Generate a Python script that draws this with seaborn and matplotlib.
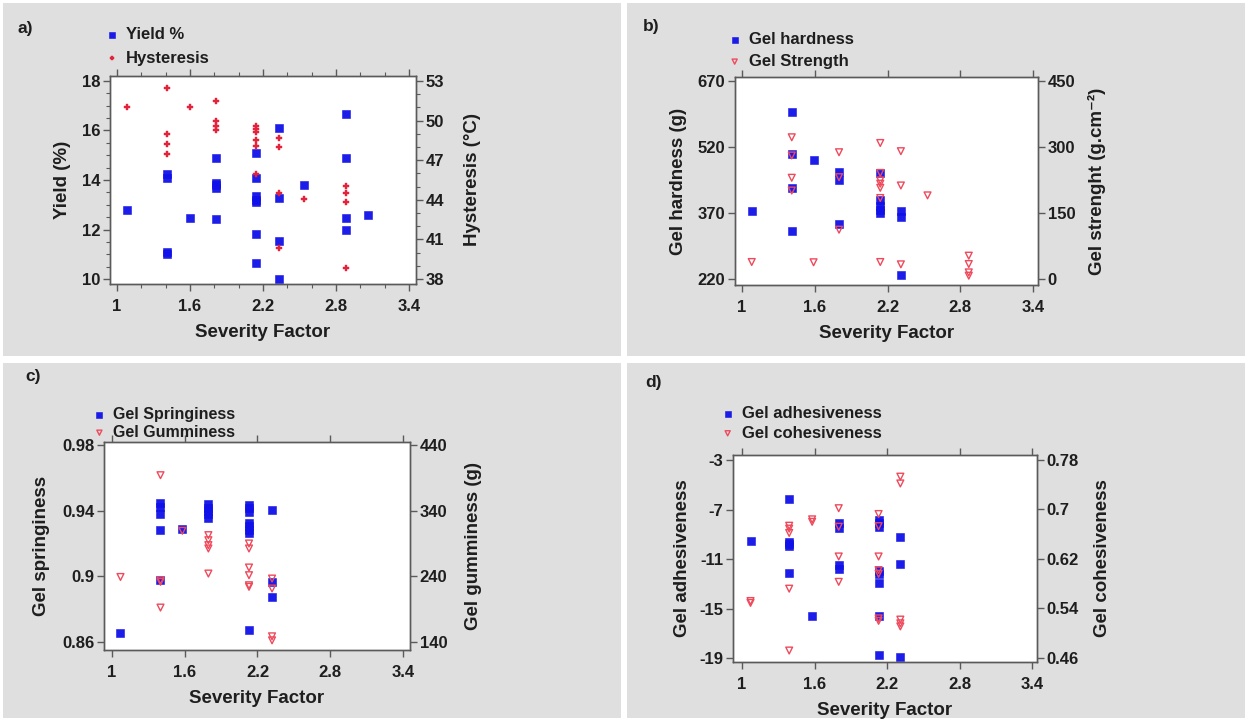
import numpy as np
import pandas as pd
import matplotlib
matplotlib.use("Agg")
import matplotlib.pyplot as plt
from matplotlib.patches import Rectangle
from matplotlib.ticker import FixedLocator, FuncFormatter, MultipleLocator
import seaborn as sns

# ---------------- data ----------------
# a) Yield / Hysteresis
a_yield_sf = [1.08, 1.41, 1.41, 1.41, 1.41, 1.60, 1.81, 1.81, 1.81, 1.81, 1.81,
              2.14, 2.14, 2.14, 2.14, 2.14, 2.14, 2.14, 2.33, 2.33, 2.33, 2.33,
              2.54, 2.88, 2.88, 2.88, 2.88, 3.06]
a_yield = [12.8, 14.25, 14.1, 11.1, 11.0, 12.48, 14.88, 13.88, 13.78, 13.68, 12.43,
           15.1, 14.1, 13.35, 13.2, 13.1, 11.8, 10.66, 16.1, 13.29, 11.54, 10.0,
           13.78, 16.68, 14.9, 12.48, 11.97, 12.57]
a_hyst_sf = [1.08, 1.41, 1.41, 1.41, 1.41, 1.60, 1.81, 1.81, 1.81, 1.81,
             2.14, 2.14, 2.14, 2.14, 2.14, 2.14, 2.33, 2.33, 2.33, 2.33,
             2.54, 2.88, 2.88, 2.88, 2.88]
a_hyst = [51.0, 52.5, 49.0, 48.2, 47.5, 51.0, 51.5, 50.0, 49.6, 49.3,
          49.6, 49.33, 49.1, 48.5, 48.07, 45.97, 48.67, 48.0, 44.5, 40.33,
          44.07, 45.03, 44.5, 43.8, 38.86]

# b) Gel hardness / Gel strength
b_hard_sf = [1.08, 1.41, 1.41, 1.41, 1.41, 1.59, 1.80, 1.80, 1.80,
             2.14, 2.14, 2.14, 2.14, 2.14, 2.31, 2.31, 2.31]
b_hard = [373.5, 599, 503, 426.5, 329.7, 491.5, 464, 445.4, 345.5,
          460.5, 398.5, 387, 377, 370, 374, 362, 229]
b_str_sf = [1.08, 1.41, 1.41, 1.41, 1.41, 1.59, 1.80, 1.80, 1.80,
            2.14, 2.14, 2.14, 2.14, 2.14, 2.14, 2.14, 2.31, 2.31, 2.31,
            2.53, 2.87, 2.87, 2.87, 2.87]
b_str = [38.6, 322, 280.6, 230, 201, 38, 288, 231.4, 112,
         309, 241, 224, 216.6, 207.2, 184, 38.6, 290.4, 212.5, 33.3,
         190, 53, 34, 15, 7.6]

# c) Gel springiness / Gel gumminess
c_spr_sf = [1.07, 1.40, 1.40, 1.40, 1.40, 1.40, 1.58, 1.795, 1.795, 1.795, 1.795, 1.795,
            2.13, 2.13, 2.13, 2.13, 2.13, 2.13, 2.13, 2.13, 2.32, 2.32, 2.32]
c_spr = [0.8655, 0.9444, 0.9424, 0.9379, 0.9285, 0.8976, 0.929, 0.9438, 0.9417, 0.9397,
         0.9377, 0.9356, 0.9434, 0.9413, 0.9393, 0.9326, 0.9306, 0.9285, 0.9265, 0.8675,
         0.9403, 0.8966, 0.8875]
c_gum_sf = [1.07, 1.40, 1.40, 1.40, 1.40, 1.58, 1.795, 1.795, 1.795, 1.795, 1.795,
            2.13, 2.13, 2.13, 2.13, 2.13, 2.13, 2.32, 2.32, 2.32, 2.32]
c_gum = [239, 394, 234, 231.5, 192.4, 309.3, 302.7, 295, 287.5, 282.4, 244.2,
         290, 282.4, 253.4, 241.7, 226.4, 224, 236.6, 221.4, 148.6, 142.5]

# d) Gel adhesiveness / Gel cohesiveness
d_adh_sf = [1.07, 1.39, 1.39, 1.39, 1.39, 1.39, 1.58, 1.80, 1.80, 1.80, 1.80,
            2.13, 2.13, 2.13, 2.13, 2.13, 2.13, 2.13, 2.13, 2.31, 2.31, 2.31]
d_adh = [-9.53, -6.18, -9.61, -9.8, -9.96, -12.12, -15.63, -8.07, -8.53, -11.5, -11.77,
         -7.86, -8.13, -8.4, -11.96, -12.17, -12.9, -15.63, -18.73, -9.21, -11.37, -18.92]
d_coh_sf = [1.07, 1.07, 1.39, 1.39, 1.39, 1.39, 1.39, 1.58, 1.58, 1.80, 1.80, 1.80, 1.80,
            2.13, 2.13, 2.13, 2.13, 2.13, 2.13, 2.13, 2.31, 2.31, 2.31, 2.31, 2.31]
d_coh = [0.552, 0.549, 0.6737, 0.669, 0.662, 0.572, 0.472, 0.684, 0.680,
         0.702, 0.672, 0.624, 0.583, 0.6926, 0.673, 0.624, 0.602, 0.596, 0.524, 0.520,
         0.753, 0.742, 0.522, 0.516, 0.511]

x_ticks = [1, 1.6, 2.2, 2.8, 3.4]

# ---------------- style ----------------
sns.set_theme(style="ticks")
plt.rcParams["font.family"] = ["Liberation Sans", "DejaVu Sans"]
plt.rcParams["font.weight"] = "bold"
plt.rcParams["axes.labelweight"] = "bold"

W, H = 1248, 721
fig = plt.figure(figsize=(W / 100, H / 100), dpi=100)
fig.patch.set_facecolor("white")

GRAY = "#dfdfdf"
for (x0, y0, x1, y1) in [(3, 3, 621, 356), (627, 3, 1245, 356),
                         (3, 363, 621, 718), (627, 363, 1245, 718)]:
    fig.patches.append(Rectangle((x0 / W, 1 - y1 / H), (x1 - x0) / W, (y1 - y0) / H,
                                 transform=fig.transFigure, facecolor=GRAY,
                                 edgecolor="none", zorder=-10))

BLUE = "#1010e8"
RED_P = "#e3233c"
RED_T = "#ee4a5c"
TXT = "#1e1e1e"
SPINE = "#5a5a5a"


def px_axes(l, r, t, b):
    return fig.add_axes([l / W, 1 - b / H, (r - l) / W, (b - t) / H])


fmt = FuncFormatter(lambda v, p: "%g" % round(v, 4))


def style_axes(ax, ax2):
    for a in (ax, ax2):
        for s in a.spines.values():
            s.set_color(SPINE)
            s.set_linewidth(1.0)
        a.tick_params(axis="both", which="major", direction="out", length=5, width=1,
                      color=SPINE, labelsize=12, labelcolor=TXT, pad=2)
        a.tick_params(axis="both", which="minor", direction="out", length=3, width=0.8,
                      color=SPINE)
        for lab in a.get_yticklabels() + a.get_xticklabels():
            lab.set_fontweight("bold")
    ax.tick_params(axis="x", which="major", pad=6)
    ax.set_facecolor("white")
    ax.xaxis.set_ticks_position("both")
    ax.tick_params(axis="x", top=True, labeltop=False)


def make_panel(rect, xlim, ylim, ylim2, yticks, yticks2, x1, y1, x2, y2,
               m2, s2, hollow, lab1, lab2, ylab, ylab2, letter, letter_xy,
               leg_xy, leg_sp, leg_fs, lp_l, lp_r, minors=None):
    ax = px_axes(*rect)
    ax2 = ax.twinx()
    d1 = pd.DataFrame({"sf": x1, "v": y1})
    d2 = pd.DataFrame({"sf": x2, "v": y2})
    sns.scatterplot(data=d1, x="sf", y="v", marker="s", s=27, color=BLUE,
                    edgecolor=BLUE, linewidth=0.4, alpha=0.95, ax=ax, label=lab1,
                    legend=False)
    if hollow:
        sns.scatterplot(data=d2, x="sf", y="v", marker=m2, s=s2, color=RED_T,
                        facecolor="none", edgecolor=RED_T, linewidth=1.0, ax=ax2,
                        label=lab2, legend=False)
    else:
        sns.scatterplot(data=d2, x="sf", y="v", marker=m2, s=s2, color=RED_P,
                        edgecolor=RED_P, linewidth=0.3, ax=ax2, label=lab2,
                        legend=False)
    ax.set_xlim(*xlim)
    ax.set_ylim(*ylim)
    ax2.set_ylim(*ylim2)
    ax.xaxis.set_major_locator(FixedLocator(x_ticks))
    ax.yaxis.set_major_locator(FixedLocator(yticks))
    ax2.yaxis.set_major_locator(FixedLocator(yticks2))
    ax.xaxis.set_major_formatter(fmt)
    ax.yaxis.set_major_formatter(fmt)
    ax2.yaxis.set_major_formatter(fmt)
    if minors:
        ax.xaxis.set_minor_locator(MultipleLocator(minors[0]))
        ax.yaxis.set_minor_locator(MultipleLocator(minors[1]))
        ax2.yaxis.set_minor_locator(MultipleLocator(minors[2]))
    style_axes(ax, ax2)
    ax.set_xlabel("Severity Factor", fontsize=13.5, color=TXT, labelpad=7)
    ax.set_ylabel(ylab, fontsize=13.5, color=TXT, labelpad=lp_l)
    ax2.set_ylabel(ylab2, fontsize=13.5, color=TXT, labelpad=lp_r)
    fig.text(letter_xy[0] / W, 1 - letter_xy[1] / H, letter, fontsize=12.5,
             fontweight="bold", color=TXT, ha="left", va="center")
    h1, l1 = ax.get_legend_handles_labels()
    h2, l2 = ax2.get_legend_handles_labels()
    leg = ax.legend(h1 + h2, l1 + l2, loc="upper left",
                    bbox_to_anchor=(leg_xy[0] / W, 1 - leg_xy[1] / H),
                    bbox_transform=fig.transFigure, frameon=False, borderpad=0,
                    borderaxespad=0, handlelength=0.8, handletextpad=0.45,
                    labelspacing=leg_sp, prop={"size": leg_fs, "weight": "bold"},
                    markerscale=0.75)
    for t in leg.get_texts():
        t.set_color(TXT)
    return ax, ax2


# a)
make_panel((110, 416, 76, 284), (0.9425, 3.4575), (9.8, 18.2), (37.62, 53.38),
           [10, 12, 14, 16, 18], [38, 41, 44, 47, 50, 53],
           a_yield_sf, a_yield, a_hyst_sf, a_hyst, "P", 20, False,
           "Yield %", "Hysteresis", "Yield (%)", "Hysteresis (°C)", "a)", (18, 28),
           (105, 27), 0.53, 12, 8, 14, minors=(0.2, 0.5, 1))

# b)
make_panel((735, 1038, 77, 285), (0.942, 3.441), (206.4, 679), (-13.6, 459),
           [220, 370, 520, 670], [0, 150, 300, 450],
           b_hard_sf, b_hard, b_str_sf, b_str, "v", 24, True,
           "Gel hardness", "Gel Strength", "Gel hardness (g)",
           "Gel strenght (g.cm⁻²)", "b)", (643, 26),
           (728, 32), 0.42, 12, 8, 9)

# c)
make_panel((104, 410, 442, 650), (0.934, 3.458), (0.8551, 0.9818), (127.8, 444.6),
           [0.86, 0.9, 0.94, 0.98], [140, 240, 340, 440],
           c_spr_sf, c_spr, c_gum_sf, c_gum, "v", 24, True,
           "Gel Springiness", "Gel Gumminess", "Gel springiness", "Gel gumminess (g)",
           "c)", (25, 376), (93, 407), 0.18, 11.5, 9, 13)

# d)
make_panel((733, 1037, 455, 662), (0.925, 3.441), (-19.32, -2.596), (0.4535, 0.788),
           [-19, -15, -11, -7, -3], [0.46, 0.54, 0.62, 0.7, 0.78],
           d_adh_sf, d_adh, d_coh_sf, d_coh, "v", 24, True,
           "Gel adhesiveness", "Gel cohesiveness", "Gel adhesiveness", "Gel cohesiveness",
           "d)", (645, 383), (721, 406), 0.28, 12, 6, 11)

fig.savefig("out.png", dpi=100, facecolor="white")
